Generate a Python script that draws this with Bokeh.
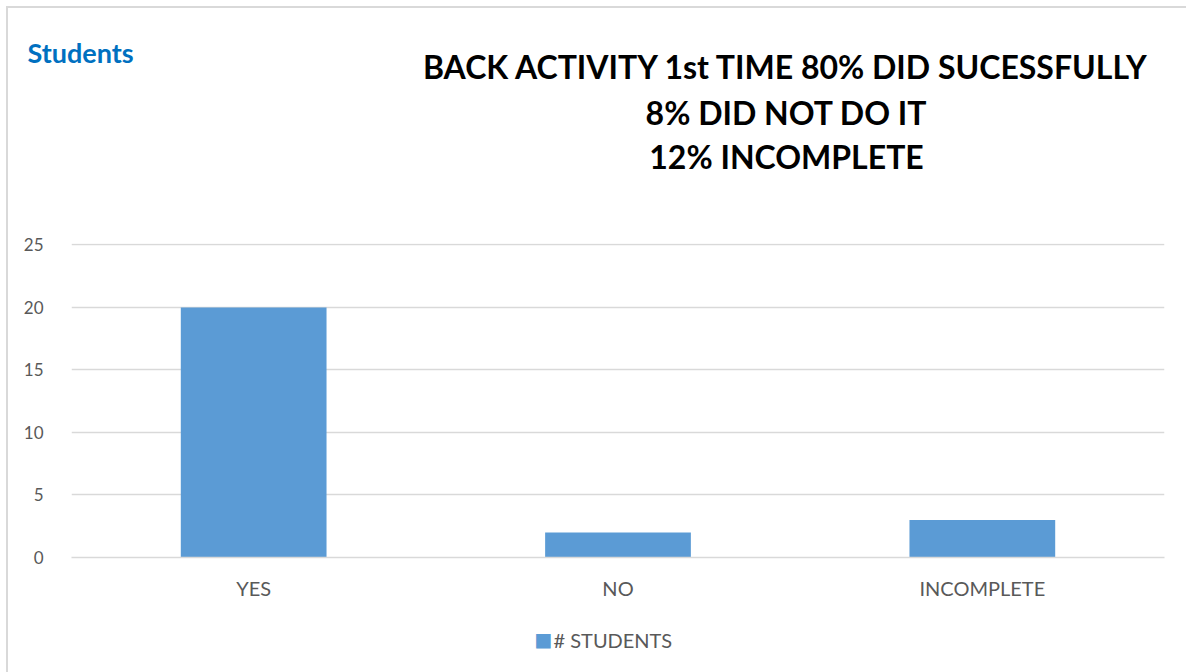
from bokeh.plotting import figure
from bokeh.models import (ColumnDataSource, Label, FactorRange, Range1d)
from bokeh.embed import file_html
from bokeh.resources import INLINE

categories = ["YES", "NO", "INCOMPLETE"]
students = [20, 2, 3]
series_name = "# STUDENTS"
chart_label = "Students"
title_lines = ["BACK ACTIVITY 1st TIME 80% DID SUCESSFULLY", "8% DID NOT DO IT", "12% INCOMPLETE"]
y_ticks = [0, 5, 10, 15, 20, 25]

FONT = "Lato"
GRID = "#d9d9d9"
TXT = "#595959"
BAR = "#5B9BD5"

OFF = 8                       # content origin inside the outer border
W, H = 1186 - OFF, 672 - OFF
FT, FB = 243 - OFF, 557 - OFF  # frame top / bottom (canvas px)
FL, FR = 71 - OFF, 1164 - OFF  # frame left / right (canvas px)
FRAME_H = FB - FT

src = ColumnDataSource(dict(cat=categories, val=students))
p = figure(output_backend="svg", toolbar_location=None,
           frame_width=FR - FL, frame_height=FRAME_H,
           x_range=FactorRange(*categories, range_padding=0),
           y_range=Range1d(0, 25 + 1.5 * 25 / FRAME_H))
p.min_border_left = FL
p.min_border_right = W - FR
p.min_border_top = FT
p.min_border_bottom = H - FB
p.outline_line_color = None
p.background_fill_color = "white"
p.border_fill_color = "white"

r = p.vbar(x="cat", top="val", width=0.4, source=src, fill_color=BAR, line_color=None)

p.xgrid.grid_line_color = None
p.ygrid.grid_line_color = GRID
p.ygrid.grid_line_width = 1.3
p.yaxis.ticker = y_ticks
p.yaxis.axis_line_color = None
p.yaxis.major_tick_line_color = None
p.yaxis.minor_tick_line_color = None
p.yaxis.major_label_text_color = TXT
p.yaxis.major_label_text_font = FONT
p.yaxis.major_label_text_font_size = "17px"
p.yaxis.major_label_standoff = 22

p.xaxis.axis_line_color = GRID
p.xaxis.axis_line_width = 1.3
p.xaxis.major_tick_line_color = None
p.xaxis.minor_tick_line_color = None
p.xaxis.major_label_text_color = TXT
p.xaxis.major_label_text_font = FONT
p.xaxis.major_label_text_font_size = "20px"
p.xaxis.major_label_standoff = 12

# heading texts live in the top side panel; each label gets its own slot stacked upward
head_y = [191, 143.8, 59.1, -23.6]
p.add_layout(Label(x=27 - 71, y=head_y[0], x_units="screen", y_units="screen",
                   text=chart_label, text_font=FONT, text_font_style="bold",
                   text_font_size="27px", text_color="#0070C0",
                   text_baseline="middle", text_align="left"), "above")
for i, line in enumerate(title_lines):
    p.add_layout(Label(x=786 - 71, y=head_y[i + 1], x_units="screen", y_units="screen",
                       text=line, text_font=FONT, text_font_style="bold",
                       text_font_size="32px", text_color="black",
                       text_baseline="middle", text_align="center"), "above")

# series key in the bottom side panel (stacked below the x axis)
p.add_layout(Label(x=553 - 71, y=-13, x_units="screen", y_units="screen",
                   text=series_name, text_font=FONT, text_font_size="20px",
                   text_color=TXT, text_baseline="middle", text_align="left"), "below")
p.add_layout(Label(x=534 - 71, y=9.3, x_units="screen", y_units="screen",
                   text="\u25A0", text_font="DejaVu Sans", text_font_size="19px",
                   text_color=BAR, text_baseline="middle", text_align="left"), "below")

p.stylesheets = [":host { border-left: 2px solid #d9d9d9; border-top: 2px solid #d9d9d9; margin: 6px 0 0 6px; }"]

open("out.html", "w").write(file_html(p, INLINE))
